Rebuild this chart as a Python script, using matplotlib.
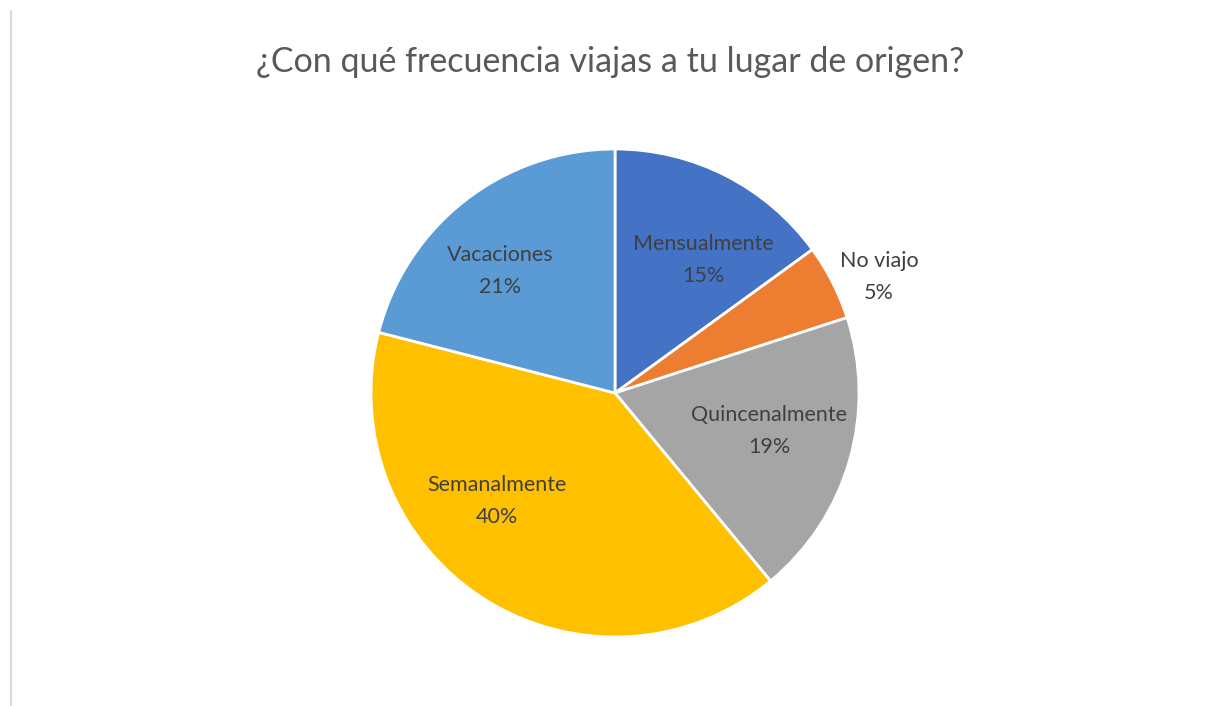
import matplotlib
matplotlib.use("Agg")
import matplotlib.pyplot as plt
from matplotlib.lines import Line2D

# Datos de la encuesta
categorias = ["Mensualmente", "No viajo", "Quincenalmente", "Semanalmente", "Vacaciones"]
porcentajes = [15, 5, 19, 40, 21]
colores = ["#4472C4", "#ED7D31", "#A5A5A5", "#FFC000", "#5B9BD5"]
titulo = "¿Con qué frecuencia viajas a tu lugar de origen?"

# Posición de cada etiqueta (unidades del radio)
pos_etiquetas = [(0.361, 0.545), (1.082, 0.475), (0.631, -0.156),
                 (-0.484, -0.443), (-0.471, 0.50)]

plt.rcParams['font.family'] = ['Lato', 'DejaVu Sans']

W, H = 1209, 706
fig = plt.figure(figsize=(W / 100, H / 100), dpi=100)

cx, cy, r = 615, 393, 244
ax = fig.add_axes([(cx - r) / W, (H - cy - r) / H, 2 * r / W, 2 * r / H])
ax.pie(porcentajes, colors=colores, startangle=90, counterclock=False,
       radius=1, wedgeprops=dict(edgecolor="white", linewidth=2))
ax.set_xlim(-1, 1)
ax.set_ylim(-1, 1)
ax.set_aspect("equal")
ax.axis("off")

for nombre, p, (x, y) in zip(categorias, porcentajes, pos_etiquetas):
    ax.text(x, y, "{}\n{}%".format(nombre, p), ha="center", va="center",
            fontsize=15.5, color="#404040", linespacing=1.75)

fig.text(610 / W, 1 - 62 / H, titulo, ha="center", va="center",
         fontsize=24.5, color="#595959")

# Línea gris del borde izquierdo
fig.add_artist(Line2D([10.5 / W, 10.5 / W], [0, 1 - 11 / H],
                      transform=fig.transFigure, color="#D9D9D9", linewidth=1.5))

fig.savefig("out.png", dpi=100)
